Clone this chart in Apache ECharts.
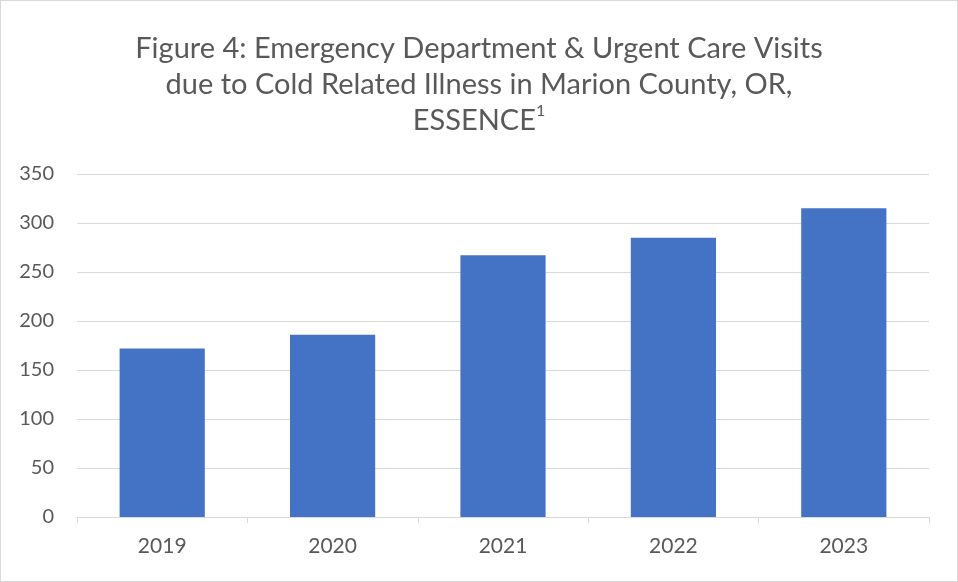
<!DOCTYPE html>
<html>
<head>
<meta charset="utf-8">
<script src="https://cdn.jsdelivr.net/npm/echarts@6/dist/echarts.min.js"></script>
<style>
  html, body { margin: 0; padding: 0; background: #fff; }
  #chart { width: 958px; height: 582px; box-sizing: border-box; border: 1px solid #d9d9d9; }
</style>
</head>
<body>
<div id="chart"></div>
<script>
var years = ['2019', '2020', '2021', '2022', '2023'];
var visits = [172, 186, 267, 285, 315];
var yTicks = { min: 0, max: 350, interval: 50 };

var FONT = 'Lato, sans-serif';

var chart = echarts.init(document.getElementById('chart'));
chart.setOption({
  backgroundColor: '#ffffff',
  animation: false,
  title: {
    text: 'Figure 4: Emergency Department & Urgent Care Visits\ndue to Cold Related Illness in Marion County, OR,\nESSENCE{sup|1}',
    left: 'center',
    top: 25,
    textStyle: {
      fontFamily: FONT,
      fontSize: 29,
      fontWeight: 'normal',
      color: '#595959',
      lineHeight: 36,
      align: 'center',
      rich: {
        sup: { fontFamily: FONT, fontSize: 16, color: '#595959', verticalAlign: 'top', lineHeight: 27 }
      }
    }
  },
  grid: { left: 76, right: 28, top: 173, bottom: 64, containLabel: false },
  xAxis: {
    type: 'category',
    data: years,
    axisLine: { lineStyle: { color: '#d9d9d9', width: 1 } },
    axisTick: { show: true, length: 6, lineStyle: { color: '#d9d9d9' } },
    axisLabel: { color: '#595959', fontSize: 21, fontFamily: FONT, margin: 19 }
  },
  yAxis: {
    type: 'value',
    min: yTicks.min,
    max: yTicks.max,
    interval: yTicks.interval,
    axisLine: { show: false },
    axisTick: { show: false },
    splitLine: { lineStyle: { color: '#d9d9d9', width: 1 } },
    axisLabel: { color: '#595959', fontSize: 20, fontFamily: FONT, margin: 23 }
  },
  series: [{
    type: 'bar',
    data: visits,
    barWidth: '50%',
    itemStyle: { color: '#4472c4' }
  }]
});
</script>
</body>
</html>
